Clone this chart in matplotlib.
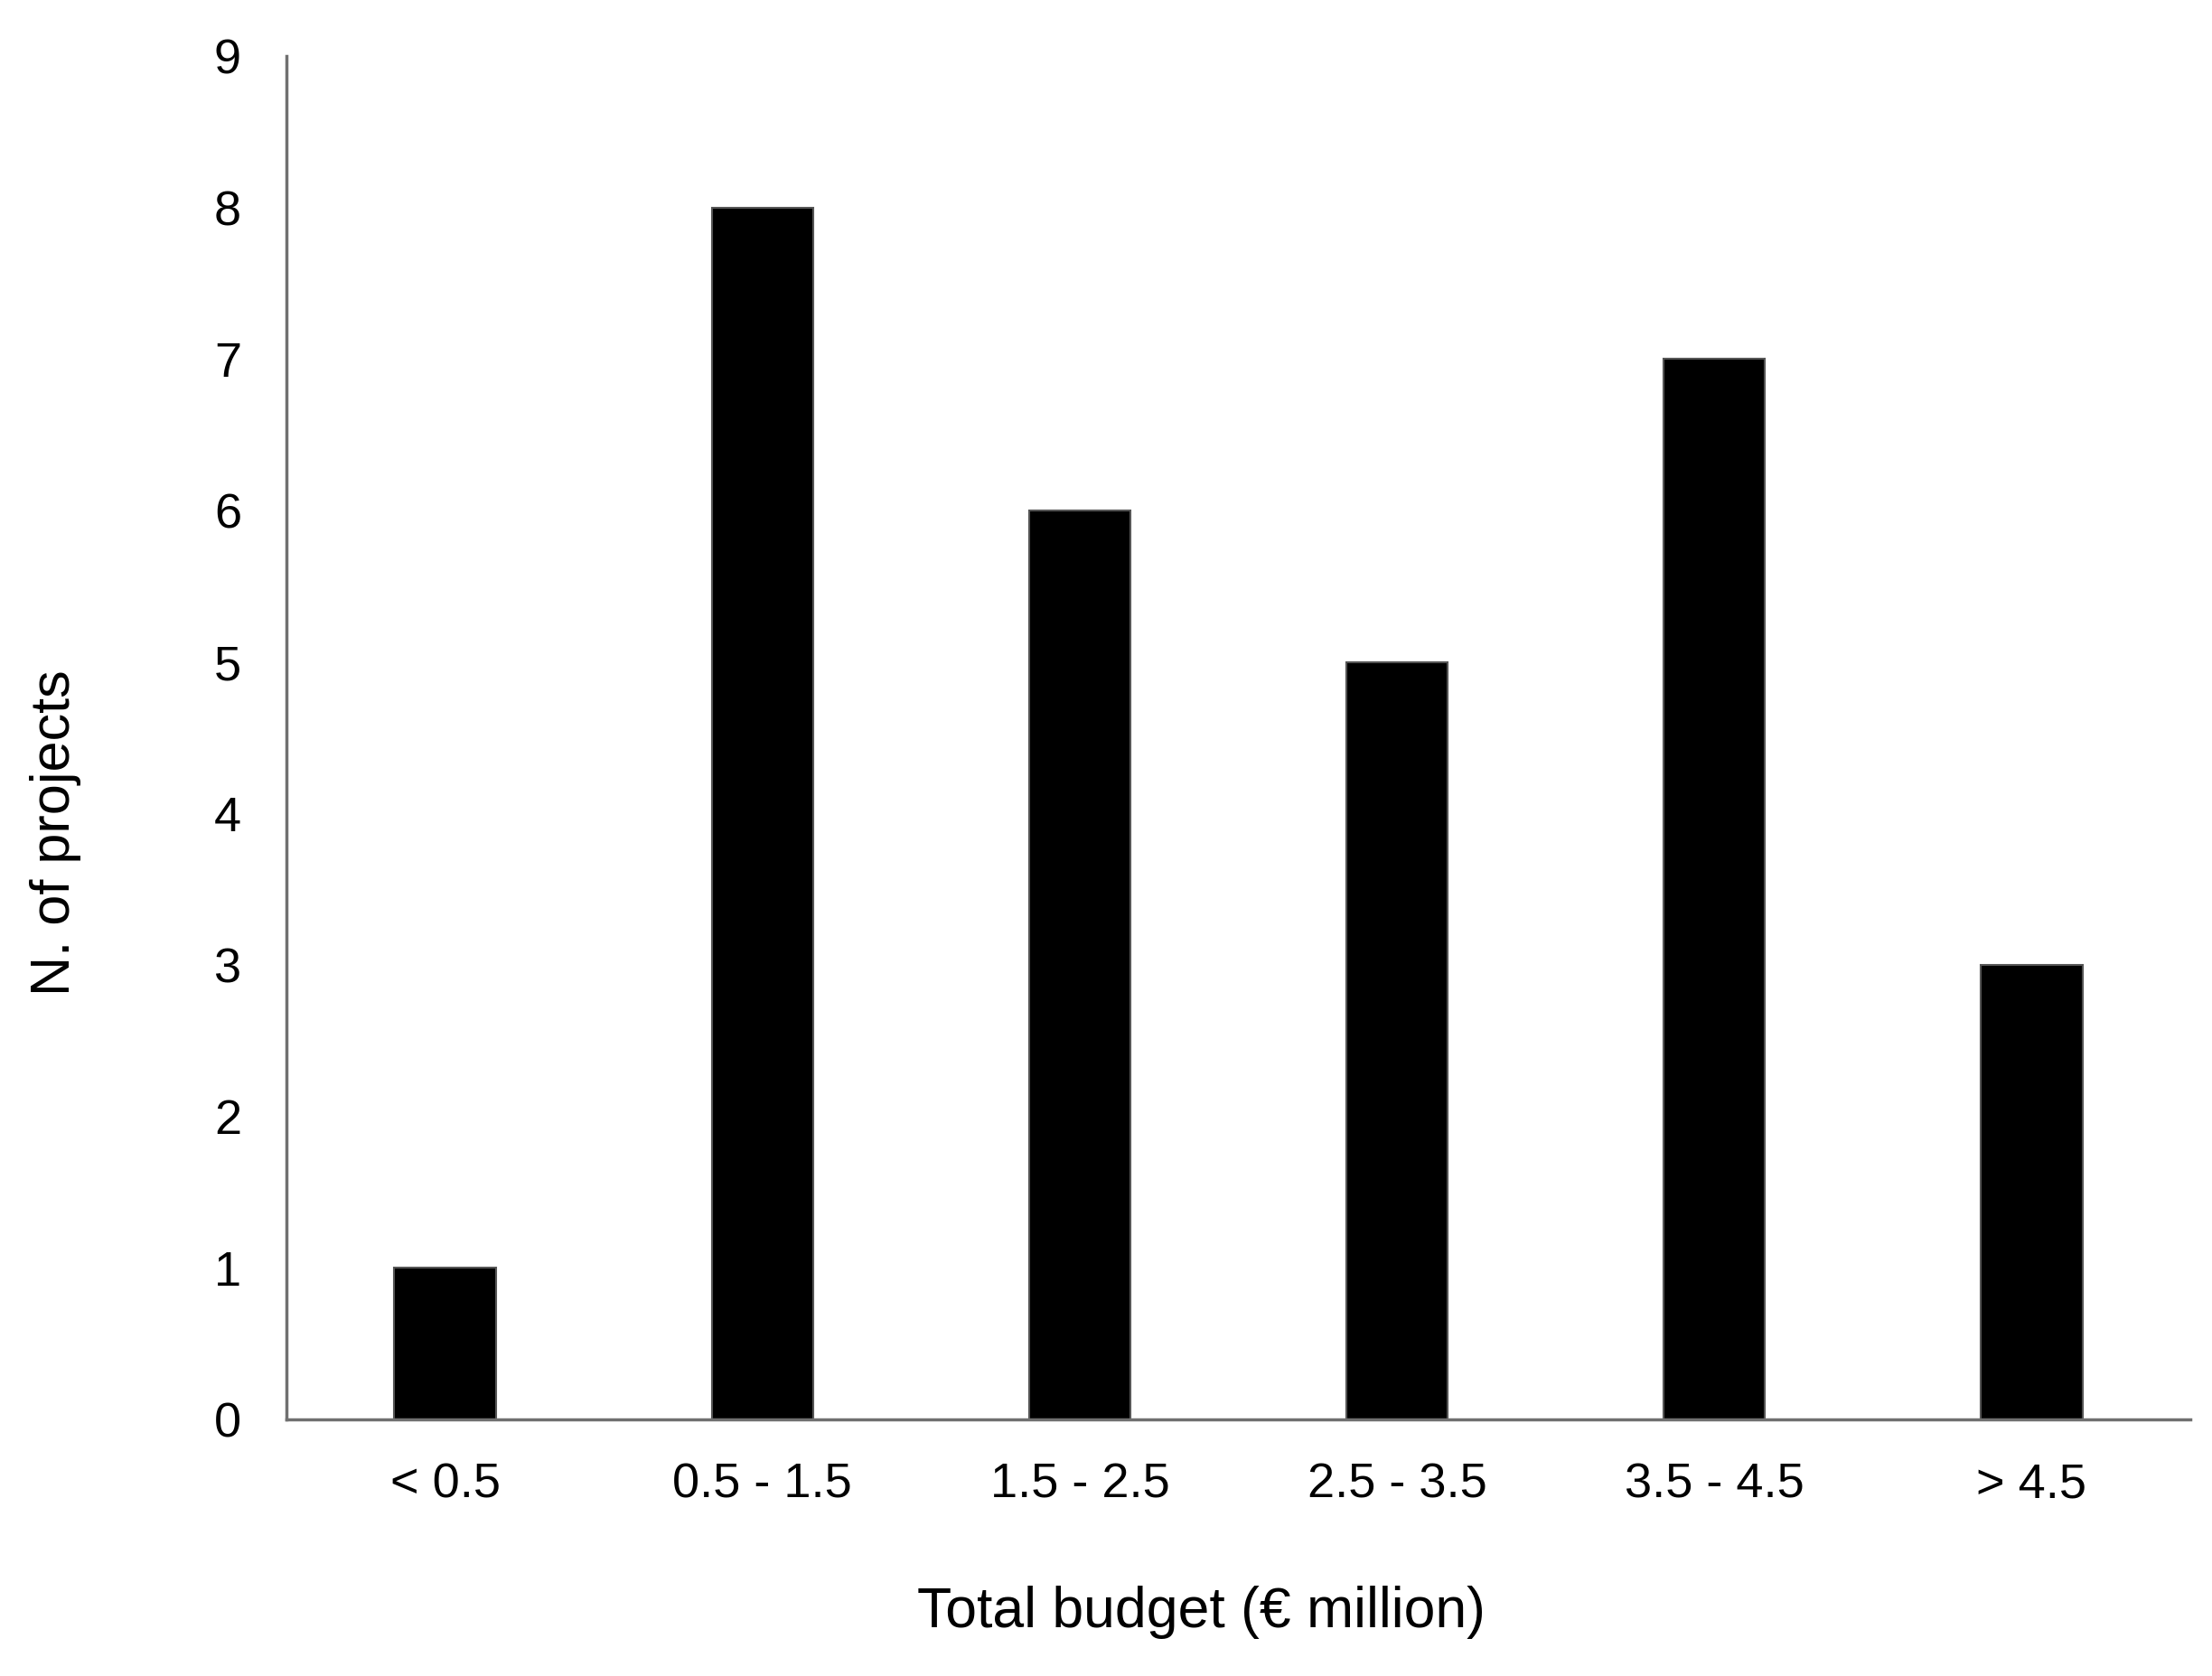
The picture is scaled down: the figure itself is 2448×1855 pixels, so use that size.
import matplotlib.pyplot as plt

categories = ["< 0.5", "0.5 - 1.5", "1.5 - 2.5", "2.5 - 3.5", "3.5 - 4.5", "> 4.5"]
projects = [1, 8, 6, 5, 7, 3]
y_ticks = [0, 1, 2, 3, 4, 5, 6, 7, 8, 9]

plt.rcParams["font.family"] = ["Liberation Sans", "DejaVu Sans"]

fig = plt.figure(figsize=(24.48, 18.55), dpi=100)
ax = fig.add_axes([0.1295, 0.153, 0.8607, 0.8136])

x = list(range(len(categories)))
ax.bar(x, projects, width=0.32, color="black", edgecolor="#555555", linewidth=1.5)

ax.set_xlim(-0.5, len(categories) - 0.5)
ax.set_ylim(0, 9)
ax.set_yticks(y_ticks)
ax.set_xticks(x)
ax.set_xticklabels(categories)

for side in ["top", "right"]:
    ax.spines[side].set_visible(False)
for side in ["left", "bottom"]:
    ax.spines[side].set_color("#707070")
    ax.spines[side].set_linewidth(2.5)

ax.tick_params(axis="both", length=0, labelsize=39, colors="black")
ax.tick_params(axis="y", pad=36)
ax.tick_params(axis="x", pad=34)

fig.text(0.543, 0.038, "Total budget (€ million)", fontsize=45, ha="center", va="center")
fig.text(0.025, 0.503, "N. of projects", fontsize=44, ha="center", va="center", rotation=90)

fig.savefig("out.png", dpi=100, facecolor="white")
